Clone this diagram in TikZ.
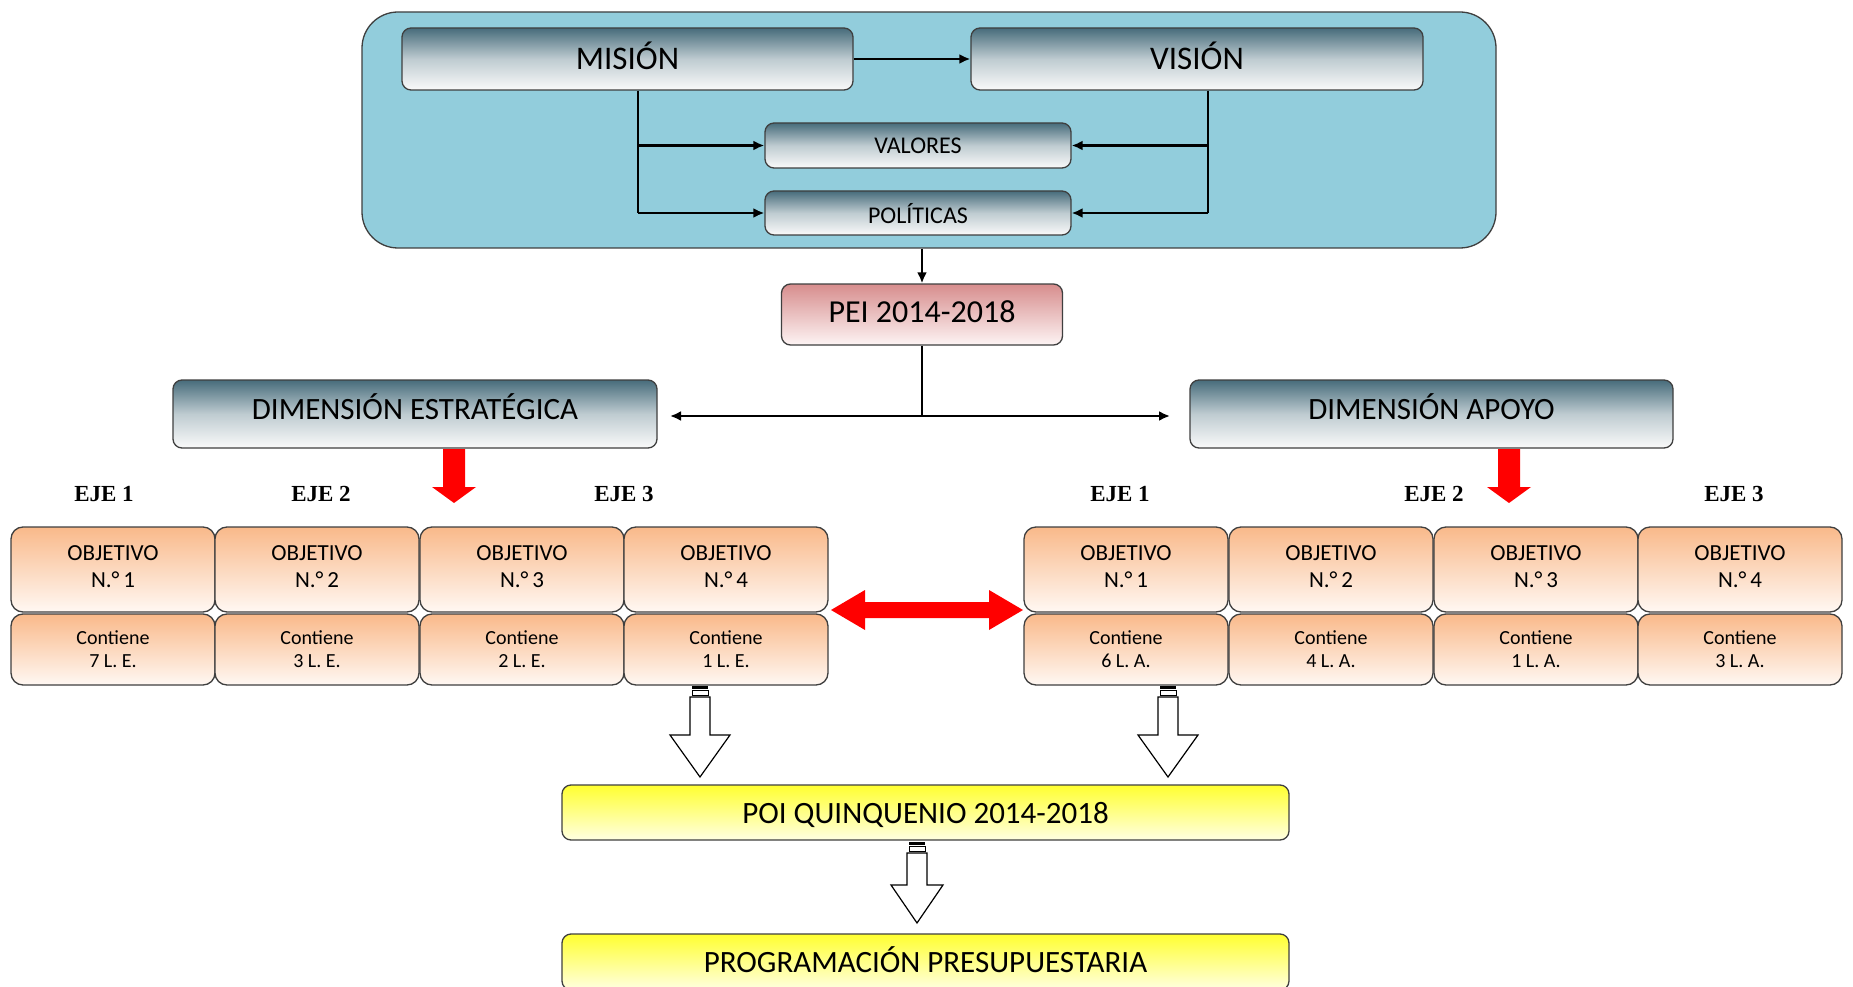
\documentclass[tikz,border=0pt]{standalone}
\usepackage{fontspec}
\setmainfont{Carlito}
\newfontfamily\ejefont{Liberation Serif}
\usetikzlibrary{arrows.meta}
\definecolor{frameblue}{HTML}{92CDDC}
\definecolor{tealtop}{HTML}{476C7B}
\definecolor{bordergray}{HTML}{3F3F3F}
\definecolor{orangetop}{HTML}{F9B98A}
\definecolor{orangebot}{HTML}{FFF8F3}
\definecolor{pinktop}{HTML}{D78D8D}
\definecolor{pinkbot}{HTML}{FDF4F4}
\definecolor{yellowtop}{HTML}{FFFF30}
\definecolor{yellowbot}{HTML}{FFFFE2}
\definecolor{redarrow}{HTML}{FF0000}
\newcommand\hollowarrow[6]{%
  \fill[black] ({#1-8},#2) rectangle ({#1+8},{#2+3});
  \draw[line width=1pt, fill=white] ({#1-8},{#2+4}) rectangle ({#1+8},{#2+9});
  \draw[line width=1.2pt, fill=white, line join=miter] ({#1-10},#3) -- ({#1+10},#3) -- ({#1+10},#4) -- ({#1+#6},#4) -- (#1,#5) -- ({#1-#6},#4) -- ({#1-10},#4) -- cycle;
}
\tikzset{
  base/.style={draw=bordergray, line width=1.3pt, rounded corners=9pt, inner sep=0pt, align=center, text=black},
  tealbox/.style={base, top color=tealtop, bottom color=white!96!gray, middle color=tealtop!35!white},
  pinkbox/.style={base, top color=pinktop, bottom color=pinkbot},
  orangebox/.style={base, top color=orangetop, bottom color=orangebot, minimum width=204pt, rounded corners=12pt},
  yellowbox/.style={base, top color=yellowtop, bottom color=yellowbot, minimum width=727pt, font=\fontsize{31}{34}\selectfont},
  objbox/.style={orangebox, minimum height=85pt, font=\fontsize{23}{27}\selectfont, text depth=6pt},
  conbox/.style={orangebox, minimum height=71pt, font=\fontsize{20}{23}\selectfont},
  ejelabel/.style={font=\ejefont\bfseries\fontsize{23}{26}\selectfont, inner sep=0pt},
  conn/.style={line width=2.2pt, line cap=butt},
  arr/.style={conn, -{Latex[length=11pt,width=10pt]}},
  redshape/.style={fill=redarrow, draw=none},
}
\begin{document}
\begin{tikzpicture}[x=1pt,y=-1pt]
\useasboundingbox (0,0) rectangle (1853,987);
\fill[white] (0,0) rectangle (1853,987);

% frame
\node[draw=bordergray, line width=1.3pt, fill=frameblue, rounded corners=36pt, minimum width=1134pt, minimum height=236pt, inner sep=0pt] (frame) at (929,130) {};

\node[tealbox, minimum width=451pt, minimum height=62pt, font=\fontsize{33}{36}\selectfont, text depth=7pt] (mision) at (627.5,59) {MISIÓN};
\node[tealbox, minimum width=452pt, minimum height=62pt, font=\fontsize{33}{36}\selectfont, text depth=7pt] (vision) at (1197,59) {VISIÓN};
\node[tealbox, minimum width=306pt, minimum height=45pt, font=\fontsize{24}{27}\selectfont] (valores) at (918,145.5) {VALORES};
\node[tealbox, minimum width=306pt, minimum height=44pt, font=\fontsize{24}{27}\selectfont, text depth=0pt] (politicas) at (918,213) {POLÍTICAS};

\coordinate (mlx) at (638,0);
\coordinate (vrx) at (1208,0);
\draw[arr] (mision.east) -- (vision.west);
\draw[conn] (mision.south -| mlx) -- (mlx |- politicas.west);
\draw[arr] (mlx |- valores.west) -- (valores.west);
\draw[arr] (mlx |- politicas.west) -- (politicas.west);
\draw[conn] (vision.south -| vrx) -- (vrx |- politicas.east);
\draw[arr] (vrx |- valores.east) -- (valores.east);
\draw[arr] (vrx |- politicas.east) -- (politicas.east);

\node[pinkbox, minimum width=281pt, minimum height=61pt, font=\fontsize{32}{35}\selectfont, text depth=5pt] (pei) at (922,314.5) {PEI 2014-2018};
\draw[arr] (pei.north |- frame.south) -- (pei.north);

\node[tealbox, minimum width=484pt, minimum height=68pt, font=\fontsize{31}{34}\selectfont, text depth=14pt] (dimE) at (415,414) {DIMENSIÓN ESTRATÉGICA};
\node[tealbox, minimum width=483pt, minimum height=68pt, font=\fontsize{31}{34}\selectfont, text depth=14pt] (dimA) at (1431.5,414) {DIMENSIÓN APOYO};

\coordinate (bl) at (670,416);
\coordinate (br) at (1170,416);
\draw[conn] (pei.south) -- (pei.south |- bl);
\draw[arr] (pei.south |- bl) -- (bl);
\draw[arr] (pei.south |- br) -- (br);

% red down arrows
\fill[redshape] (443,449) -- (465,449) -- (465,487) -- (476,487) -- (454,503) -- (432,487) -- (443,487) -- cycle;
\fill[redshape] (1498,449) -- (1520,449) -- (1520,487) -- (1531,487) -- (1509,503) -- (1487,487) -- (1498,487) -- cycle;

% EJE labels
\node[ejelabel] (le1) at (104,494) {EJE 1};
\node[ejelabel] (le2) at (321,494) {EJE 2};
\node[ejelabel] (le3) at (624,494) {EJE 3};
\node[ejelabel] (re1) at (1120,494) {EJE 1};
\node[ejelabel] (re2) at (1434,494) {EJE 2};
\node[ejelabel] (re3) at (1734,494) {EJE 3};

% left objectives
\node[objbox] (lo1) at (113,569.5) {OBJETIVO\\N.°\,1};
\node[objbox] (lo2) at (317,569.5) {OBJETIVO\\N.°\,2};
\node[objbox] (lo3) at (522,569.5) {OBJETIVO\\N.°\,3};
\node[objbox] (lo4) at (726,569.5) {OBJETIVO\\N.°\,4};
\node[conbox] (lc1) at (113,649.5) {Contiene\\7 L. E.};
\node[conbox] (lc2) at (317,649.5) {Contiene\\3 L. E.};
\node[conbox] (lc3) at (522,649.5) {Contiene\\2 L. E.};
\node[conbox] (lc4) at (726,649.5) {Contiene\\1 L. E.};

% right objectives
\node[objbox] (ro1) at (1126,569.5) {OBJETIVO\\N.°\,1};
\node[objbox] (ro2) at (1331,569.5) {OBJETIVO\\N.°\,2};
\node[objbox] (ro3) at (1536,569.5) {OBJETIVO\\N.°\,3};
\node[objbox] (ro4) at (1740,569.5) {OBJETIVO\\N.°\,4};
\node[conbox] (rc1) at (1126,649.5) {Contiene\\6 L. A.};
\node[conbox] (rc2) at (1331,649.5) {Contiene\\4 L. A.};
\node[conbox] (rc3) at (1536,649.5) {Contiene\\1 L. A.};
\node[conbox] (rc4) at (1740,649.5) {Contiene\\3 L. A.};

% red double arrow
\fill[redshape] (831,610) -- (865,590) -- (865,602) -- (989,602) -- (989,590) -- (1023,610) -- (989,630) -- (989,618) -- (865,618) -- (865,630) -- cycle;

% yellow boxes
\node[yellowbox, minimum height=55pt, text depth=0pt] (poi) at (925.5,812.5) {POI QUINQUENIO 2014-2018};
\node[yellowbox, minimum height=56pt, text depth=5pt] (prog) at (925.5,962) {PROGRAMACIÓN PRESUPUESTARIA};

% hollow arrows
\hollowarrow{700}{686}{697}{735}{777}{30}
\hollowarrow{1168}{686}{697}{735}{777}{30}
\hollowarrow{917}{842}{853}{885}{923}{26}
\end{tikzpicture}
\end{document}
